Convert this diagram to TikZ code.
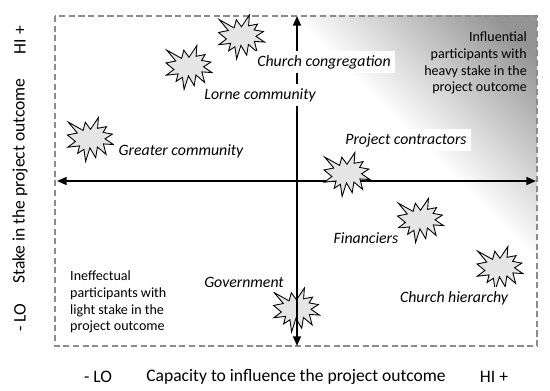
\documentclass[tikz,border=0pt]{standalone}
\usepackage{fontspec}
\setmainfont{Carlito}
\usetikzlibrary{arrows.meta,positioning}

% soft grey corner for the "influential" quadrant
\pgfdeclarehorizontalshading{quadfade}{100bp}{color(0bp)=(white); color(64bp)=(white); color(82bp)=(black!42); color(100bp)=(black!42)}

\begin{document}
\begin{tikzpicture}[x=0.02cm,y=-0.02cm,font=\fontsize{8}{9.6}\selectfont,
  axis/.style={line width=1pt,{Triangle[length=5.5pt,width=4.5pt]}-{Triangle[length=5.5pt,width=4.5pt]}},
  frame/.style={draw=black!45,dash pattern=on 3.5pt off 2pt,line width=0.6pt},
  who/.style={font=\fontsize{9}{11}\selectfont\itshape,fill=white,inner sep=2.5pt},
  axlabel/.style={font=\fontsize{10}{12}\selectfont},
  burst/.pic={\draw[fill=black!10,line width=0.5pt]
    (0,-10.2) -- (7.9,-22) -- (7.1,-11.2) -- (16.1,-12.9) -- (12.6,-7.1) -- (21.9,-5.4)
    -- (14.5,-0.7) -- (23,5.1) -- (12.9,4.4) -- (15.6,14.9) -- (6.9,7.5) -- (5.2,18.2)
    -- (-0.6,8.4) -- (-4.9,22) -- (-6.6,9.8) -- (-12.9,13.9) -- (-10.9,6.4) -- (-22.7,7.7)
    -- (-15.1,2) -- (-23,-4.5) -- (-13.2,-6.5) -- (-22.2,-17.3) -- (-7.4,-9.1) -- (-5.2,-17.3) -- cycle;}]

  \useasboundingbox (0,0) rectangle (550,391);

  % frame and corner shading
  \shade[shading=quadfade,shading angle=45] (55,16) rectangle (537,346);
  \draw[frame] (55,16) rectangle (537,346);

  \coordinate (xl) at (57,181);
  \coordinate (xr) at (536,181);
  \coordinate (yt) at (297,16);
  \coordinate (yb) at (297,346);
  \draw[axis] (xl) -- (xr);

  % stakeholders
  \pic (cong) at (241.5,37) {burst};
  \pic (lorne) at (189,67.5) {burst};
  \pic (greater) at (90.5,139.5) {burst};
  \pic (contr) at (347,174.5) {burst};
  \pic (fin) at (420.5,220.5) {burst};
  \pic (hier) at (500,268.5) {burst};
  \pic (gov) at (296.5,310) {burst};

  \draw[axis] (yt) -- (yb);

  \node[who] (lcong) at (324,62) {Church congregation};
  \node[who] (llorne) at (260,95) {Lorne community};
  \node[who] (lgreater) at (181,151) {Greater community};
  \node[who] (lcontr) at (406,140) {Project contractors};
  \node[who] (lfin) at (366,238) {Financiers};
  \node[who] (lhier) at (454,298) {Church hierarchy};
  \node[who] (lgov) at (244,282) {Government};

  % quadrant notes
  \node[anchor=east,align=right] (qhi) at (533,63) {Influential\\participants with\\heavy stake in the\\project outcome};
  \node[anchor=west,align=left] (qlo) at (64,302) {Ineffectual\\participants with\\light stake in the\\project outcome};

  % axis titles
  \node[axlabel] (xlo) at (98,377) {- LO};
  \node[axlabel] (xt) at (296,377) {Capacity to influence the project outcome};
  \node[axlabel] (xhi) at (494,377) {HI +};
  \node[axlabel,rotate=90] (yhi) at (20,40) {HI +};
  \node[axlabel,rotate=90] (yttl) at (20,181) {Stake in the project outcome};
  \node[axlabel,rotate=90] (ylo) at (20,318) {- LO};
\end{tikzpicture}
\end{document}
